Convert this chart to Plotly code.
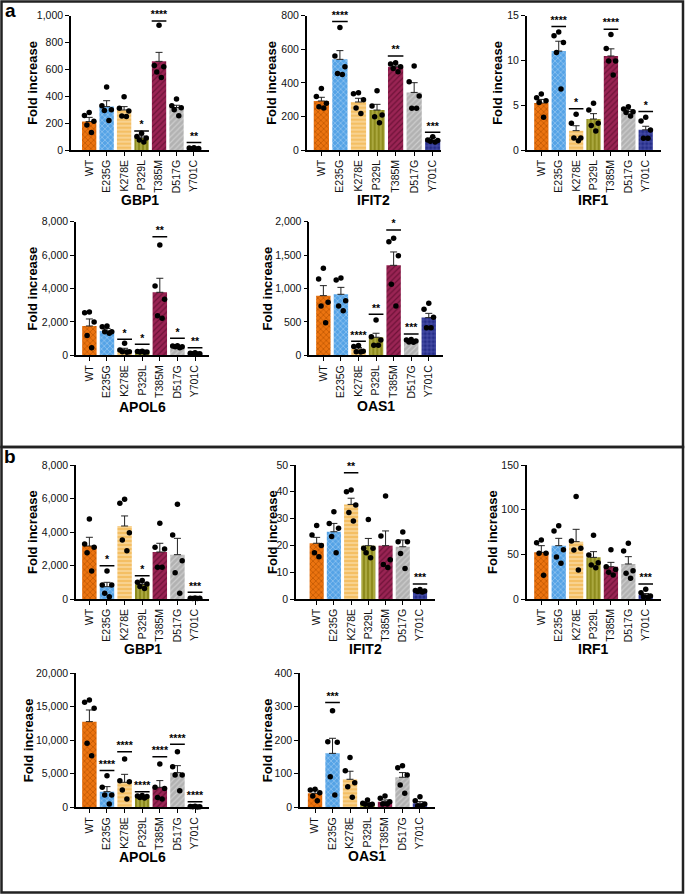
import plotly.graph_objects as go

W, H = 685, 894
FONT = "Arial, Liberation Sans, sans-serif"

mutants = ["WT", "E235G", "K278E", "P329L", "T385M", "D517G", "Y701C"]
bar_bg = ["#EC7410", "#55A3E6", "#F4BF64", "#8E8B1E", "#9A2454", "#B2B2B2", "#252D88"]
bar_fg = ["#B85200", "#9CCBF2", "#FBE0AC", "#BDBB55", "#6E1238", "#CDCDCD", "#5A63B8"]
bar_shape = ["x", "x", "-", "|", "/", "/", "+"]

# ---- panel a ----
a_gbp1_mean = [212, 323, 298, 90, 660, 316, 12]
a_gbp1_sem = [31, 44, 25, 14, 67, 17, 4]
a_gbp1_pts = [[280, 256, 215, 186, 131], [469, 330, 300, 295, 220], [397, 310, 290, 253, 250],
              [125, 100, 90, 75, 60], [928, 630, 620, 580, 540], [380, 330, 315, 300, 255], [16, 14, 12, 10, 8]]
a_gbp1_sig = ["", "", "", "*", "****", "", "**"]
a_gbp1_sigy = [0, 0, 0, 141, 960, 0, 55]

a_ifit2_mean = [292, 540, 286, 238, 496, 343, 56]
a_ifit2_sem = [22, 52, 22, 34, 10, 58, 19]
a_ifit2_pts = [[367, 318, 278, 258, 250], [730, 560, 496, 455, 450], [341, 335, 300, 250, 218],
               [353, 262, 208, 198, 163], [520, 512, 496, 486, 466], [500, 407, 322, 248, 248], [79, 60, 56, 52, 48]]
a_ifit2_sig = ["", "****", "", "", "**", "", "***"]
a_ifit2_sigy = [0, 765, 0, 0, 560, 0, 105]

a_irf1_mean = [5.25, 11.05, 2.16, 3.46, 10.5, 4.3, 2.25]
a_irf1_sem = [0.4, 1.1, 0.55, 0.6, 0.8, 0.2, 0.4]
a_irf1_pts = [[6.25, 5.84, 5.5, 5.3, 3.65], [13.17, 12.75, 12.0, 10.9, 6.81], [3.98, 2.98, 1.34, 1.34, 1.04],
              [5.21, 4.47, 2.98, 2.75, 2.12], [12.91, 11.35, 9.94, 9.94, 8.37], [4.84, 4.58, 4.28, 4.2, 3.8],
              [3.65, 3.24, 2.23, 1.3, 1.3]]
a_irf1_sig = ["", "****", "*", "", "****", "", "*"]
a_irf1_sigy = [0, 13.8, 4.6, 0, 13.5, 0, 4.3]

a_apol6_mean = [1756, 1460, 320, 220, 3772, 560, 120]
a_apol6_sem = [420, 150, 100, 20, 840, 25, 15]
a_apol6_pts = [[2600, 2550, 2000, 1180, 450], [1756, 1716, 1417, 1417, 1317], [718, 319, 220, 220, 180],
               [250, 230, 200, 200, 180], [6607, 4152, 3353, 2375, 2216], [579, 559, 519, 519, 459],
               [150, 120, 100, 100, 80]]
a_apol6_sig = ["", "", "*", "*", "**", "*", "**"]
a_apol6_sigy = [0, 0, 958, 659, 7106, 1018, 459]

a_oas1_mean = [893, 913, 95, 270, 1347, 219, 564]
a_oas1_sem = [150, 104, 20, 60, 200, 12, 64]
a_oas1_pts = [[1302, 1142, 793, 738, 489], [1157, 1127, 818, 738, 668], [145, 130, 60, 55, 50],
              [529, 279, 229, 150, 150], [1751, 1701, 1491, 1062, 738], [235, 230, 215, 200, 195],
              [778, 688, 569, 414, 414]]
a_oas1_sig = ["", "", "****", "**", "*", "***", ""]
a_oas1_sigy = [0, 0, 209, 613, 1875, 319, 0]

# ---- panel b ----
b_gbp1_mean = [3164, 736, 4358, 876, 2806, 2647, 40]
b_gbp1_sem = [520, 260, 600, 90, 520, 975, 10]
b_gbp1_pts = [[4776, 3284, 3085, 2766, 1672], [1672, 836, 836, 338, 139], [5950, 5711, 3960, 3522, 2886],
              [1100, 1000, 900, 750, 620], [4517, 2985, 3085, 1890, 1890], [5652, 3821, 2289, 1572, 338],
              [60, 50, 40, 30, 25]]
b_gbp1_sig = ["", "*", "", "*", "", "", "***"]
b_gbp1_sigy = [0, 1990, 0, 1393, 0, 0, 398]

b_ifit2_mean = [20.8, 25.1, 35.3, 19.9, 19.9, 19.5, 3.0]
b_ifit2_sem = [2.2, 3.1, 2.3, 2.7, 5.5, 2.5, 0.4]
b_ifit2_pts = [[27.4, 23.9, 20.0, 17.3, 15.8], [32.6, 28.2, 26.4, 23.3, 17.3], [40.7, 40.0, 35.1, 32.3, 29.1],
               [29.7, 18.9, 18.9, 17.3, 15.4], [38.4, 23.5, 14.6, 12.9, 11.8], [25.0, 21.4, 21.4, 17.0, 11.4],
               [3.5, 3.2, 3.0, 2.8, 2.6]]
b_ifit2_sig = ["", "", "**", "", "", "", "***"]
b_ifit2_sigy = [0, 0, 47.1, 0, 0, 0, 5.6]

b_irf1_mean = [52.2, 59.7, 64.2, 46.6, 36.2, 39.2, 4.5]
b_irf1_sem = [7.5, 8.2, 13.8, 6.4, 4.8, 8.2, 1.6]
b_irf1_pts = [[66.0, 63.1, 51.1, 51.1, 26.5], [82, 76, 55, 47, 40], [114.6, 64.9, 56.7, 54.9, 32.5],
              [71.3, 49.3, 40.7, 38.1, 35.1], [55, 36, 33, 30, 27], [62.3, 53.7, 31.7, 28.7, 23.1],
              [10.8, 7.1, 3.4, 2.6, 1.9]]
b_irf1_sig = ["", "", "", "", "", "", "***"]
b_irf1_sigy = [0, 0, 0, 0, 0, 0, 16.8]

b_apol6_mean = [12786, 2338, 3731, 1592, 2985, 5174, 100]
b_apol6_sem = [1740, 750, 1190, 120, 1000, 1045, 30]
b_apol6_pts = [[16020, 15672, 14776, 9552, 7711], [4726, 2985, 1841, 1841, 498], [7214, 3980, 3831, 2587, 1244],
               [1750, 1700, 1600, 1450, 1400], [6450, 3000, 2800, 1450, 1250], [8308, 6070, 4826, 4826, 2488],
               [160, 130, 100, 80, 60]]
b_apol6_sig = ["", "****", "****", "****", "****", "****", "****"]
b_apol6_sigy = [0, 5500, 8308, 2338, 7562, 9403, 846]

b_oas1_mean = [41.8, 161, 83.6, 10, 16.9, 89.6, 11.9]
b_oas1_sem = [9.9, 45, 24, 3, 5, 14, 5]
b_oas1_pts = [[53.7, 51.7, 43.8, 33.8, 19.9], [288, 196, 194, 91.5, 36.8], [149, 109, 73.6, 61.7, 29.9],
              [21.9, 11.9, 9, 9, 7], [33.8, 26.9, 16.9, 10, 10], [124, 118, 96.5, 66.7, 41.8],
              [31.8, 19.9, 10, 4, 4]]
b_oas1_sig = ["", "***", "", "", "", "", ""]
b_oas1_sigy = [0, 313, 0, 0, 0, 0, 0]

genes = ["GBP1", "IFIT2", "IRF1", "APOL6", "OAS1", "GBP1", "IFIT2", "IRF1", "APOL6", "OAS1"]
y_max = [1000, 800, 15, 8000, 2000, 8000, 50, 150, 20000, 400]
y_dtick = [200, 200, 5, 2000, 500, 2000, 10, 50, 5000, 100]

data = [
    (a_gbp1_mean, a_gbp1_sem, a_gbp1_pts, a_gbp1_sig, a_gbp1_sigy),
    (a_ifit2_mean, a_ifit2_sem, a_ifit2_pts, a_ifit2_sig, a_ifit2_sigy),
    (a_irf1_mean, a_irf1_sem, a_irf1_pts, a_irf1_sig, a_irf1_sigy),
    (a_apol6_mean, a_apol6_sem, a_apol6_pts, a_apol6_sig, a_apol6_sigy),
    (a_oas1_mean, a_oas1_sem, a_oas1_pts, a_oas1_sig, a_oas1_sigy),
    (b_gbp1_mean, b_gbp1_sem, b_gbp1_pts, b_gbp1_sig, b_gbp1_sigy),
    (b_ifit2_mean, b_ifit2_sem, b_ifit2_pts, b_ifit2_sig, b_ifit2_sigy),
    (b_irf1_mean, b_irf1_sem, b_irf1_pts, b_irf1_sig, b_irf1_sigy),
    (b_apol6_mean, b_apol6_sem, b_apol6_pts, b_apol6_sig, b_apol6_sigy),
    (b_oas1_mean, b_oas1_sem, b_oas1_pts, b_oas1_sig, b_oas1_sigy),
]

# layout in pixels: axis x0, x1, top, bottom, x range, y-title x, gene label y
boxes = [
    (71, 209, 15.7, 150, [-1.04, 6.86], 33, 200),
    (306.7, 440.7, 15.7, 150, [-0.79, 6.43], 272, 200),
    (526.7, 660.7, 15.7, 150, [-0.84, 6.86], 498, 200),
    (76, 209.3, 221.7, 355.3, [-0.76, 6.81], 32, 407),
    (309.3, 443, 221.7, 355.3, [-0.80, 6.81], 267, 406),
    (76, 209.3, 465, 599, [-0.76, 6.81], 32, 649),
    (296, 435, 465, 599, [-1.2, 6.87], 272, 649),
    (526.7, 660.7, 465, 599, [-0.84, 6.86], 492, 649),
    (76, 209.3, 673.3, 807.3, [-0.76, 6.81], 28, 857),
    (300, 435, 673.3, 807.3, [-0.86, 6.86], 267, 856),
]

jitter = [0, -0.27, 0.27, -0.13, 0.13]


def ann(x, y, text, size, angle=0):
    return dict(x=x / W, y=1 - y / H, xref="paper", yref="paper", text=text, textangle=angle,
                xanchor="center", yanchor="middle", showarrow=False,
                font=dict(family=FONT, size=size, color="black"))


fig = go.Figure()
layout = {}
annotations = []
for k, ((mean, sem, pts, sig, sigy), box) in enumerate(zip(data, boxes)):
    x0, x1, yt, yb, xr, tx, gy = box
    n = "" if k == 0 else str(k + 1)
    xa, ya = "x" + n, "y" + n
    xs = list(range(len(mutants)))

    # one trace per mutant so each bar gets its own fill pattern
    for i in xs:
        fig.add_trace(go.Bar(
            x=[i], y=[mean[i]], xaxis=xa, yaxis=ya, width=0.82,
            marker=dict(color=bar_bg[i], line=dict(width=0),
                        pattern=dict(shape=bar_shape[i], fgcolor=bar_fg[i], bgcolor=bar_bg[i],
                                     fgopacity=1, size=4, solidity=0.3)),
            error_y=dict(type="data", symmetric=False, array=[sem[i]], arrayminus=[0],
                         color="#222", thickness=1, width=3.5),
            showlegend=False,
        ))

    px, py = [], []
    for i, vals in enumerate(pts):
        for r, v in enumerate(sorted(vals, reverse=True)):
            px.append(i + jitter[r])
            py.append(v)
    fig.add_trace(go.Scatter(x=px, y=py, xaxis=xa, yaxis=ya, mode="markers", cliponaxis=False,
                             marker=dict(color="black", size=5.5), showlegend=False))

    lx, ly, sx, sy, st = [], [], [], [], []
    for i, (s, h) in enumerate(zip(sig, sigy)):
        if s:
            lx += [i - 0.42, i + 0.42, None]
            ly += [h, h, None]
            sx.append(i)
            sy.append(h)
            st.append("<b>" + s + "</b>")
    if st:
        fig.add_trace(go.Scatter(x=lx, y=ly, xaxis=xa, yaxis=ya, mode="lines", cliponaxis=False,
                                 line=dict(color="black", width=1.5), showlegend=False))
        fig.add_trace(go.Scatter(x=sx, y=sy, xaxis=xa, yaxis=ya, mode="text", text=st, cliponaxis=False,
                                 textposition="top center",
                                 textfont=dict(family=FONT, size=10.5, color="black"), showlegend=False))

    key = "" if k == 0 else str(k + 1)
    layout["xaxis" + key] = dict(
        domain=[x0 / W, x1 / W], anchor=ya, range=xr, tickvals=xs, ticktext=mutants,
        tickangle=-90, showline=True, linecolor="black", linewidth=1.5, ticks="outside",
        ticklen=4, tickwidth=1.2, tickcolor="black", showgrid=False, zeroline=False,
        tickfont=dict(family=FONT, size=10.5, color="#111"), fixedrange=True)
    layout["yaxis" + key] = dict(
        domain=[1 - yb / H, 1 - yt / H], anchor=xa, range=[0, y_max[k]], dtick=y_dtick[k],
        tickformat=",d", showline=True, linecolor="black", linewidth=1.5, ticks="outside",
        ticklen=4, tickwidth=1.2, tickcolor="black", showgrid=False, zeroline=False,
        tickfont=dict(family=FONT, size=10.5, color="#111"), fixedrange=True)

    annotations.append(ann(tx, (yt + yb) / 2, "<b>Fold increase</b>", 13, -90))
    annotations.append(ann((x0 + x1) / 2, gy, "<b>" + genes[k] + "</b>", 14))

annotations.append(ann(10, 11, "<b>a</b>", 19))
annotations.append(ann(10, 457, "<b>b</b>", 19))

shapes = [
    dict(type="rect", xref="paper", yref="paper", x0=1.5 / W, x1=683 / W, y0=1 - 447 / H, y1=1 - 1.5 / H,
         line=dict(color="#222", width=2.5)),
    dict(type="rect", xref="paper", yref="paper", x0=1.5 / W, x1=683 / W, y0=1 - 892.5 / H, y1=1 - 447 / H,
         line=dict(color="#222", width=2.5)),
]

fig.update_layout(
    width=W, height=H, margin=dict(l=0, r=0, t=0, b=0, autoexpand=False),
    paper_bgcolor="white", plot_bgcolor="white", barmode="overlay",
    annotations=annotations, shapes=shapes, **layout,
)

fig.write_html("out.html", config={"displayModeBar": False},
               post_script="document.body.style.margin='0';")
